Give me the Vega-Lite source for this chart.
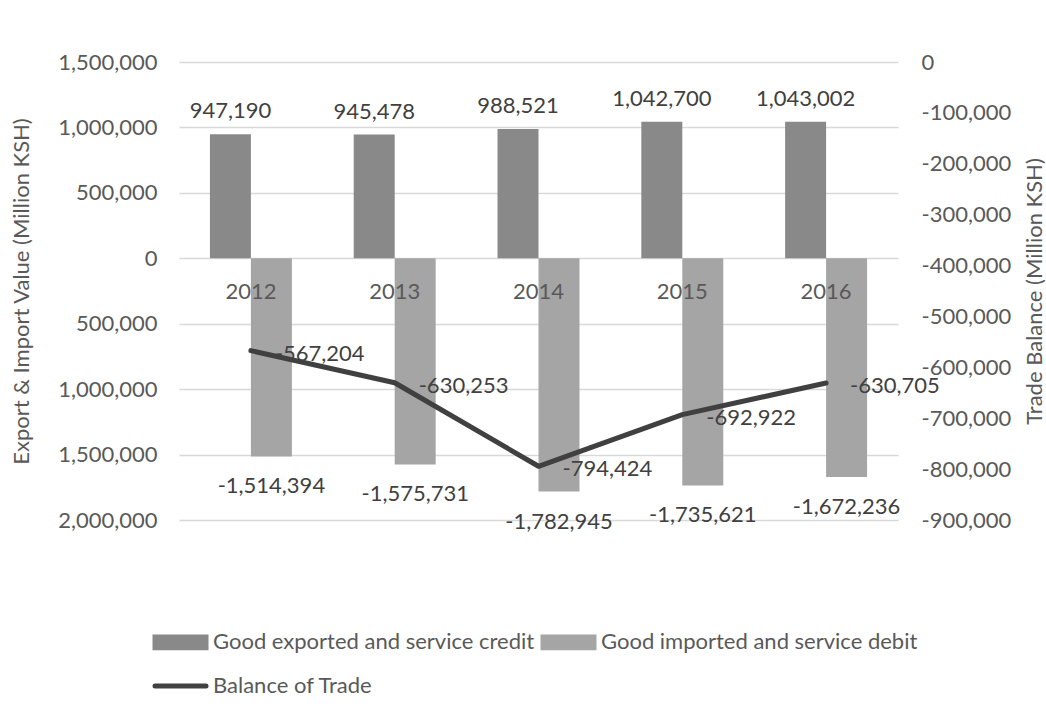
{
  "$schema": "https://vega.github.io/schema/vega-lite/v6.json",
  "width": 719,
  "height": 458,
  "autosize": {"type": "none"},
  "padding": {"left": 179, "top": 62, "right": 148, "bottom": 193},
  "background": "white",
  "config": {
    "view": {"stroke": null},
    "font": "Lato",
    "axis": {
      "labelFont": "Lato", "labelFontSize": 22, "labelColor": "#595959",
      "titleFont": "Lato", "titleFontSize": 22, "titleColor": "#595959", "titleFontWeight": "normal",
      "domain": false, "ticks": false, "tickSize": 0
    }
  },
  "datasets": {
    "trade": [
      {"year": "2012", "series": "Good exported and service credit", "value": 947190},
      {"year": "2013", "series": "Good exported and service credit", "value": 945478},
      {"year": "2014", "series": "Good exported and service credit", "value": 988521},
      {"year": "2015", "series": "Good exported and service credit", "value": 1042700},
      {"year": "2016", "series": "Good exported and service credit", "value": 1043002},
      {"year": "2012", "series": "Good imported and service debit", "value": -1514394},
      {"year": "2013", "series": "Good imported and service debit", "value": -1575731},
      {"year": "2014", "series": "Good imported and service debit", "value": -1782945},
      {"year": "2015", "series": "Good imported and service debit", "value": -1735621},
      {"year": "2016", "series": "Good imported and service debit", "value": -1672236}
    ],
    "balance": [
      {"year": "2012", "series": "Balance of Trade", "value": -567204},
      {"year": "2013", "series": "Balance of Trade", "value": -630253},
      {"year": "2014", "series": "Balance of Trade", "value": -794424},
      {"year": "2015", "series": "Balance of Trade", "value": -692922},
      {"year": "2016", "series": "Balance of Trade", "value": -630705}
    ]
  },
  "encoding": {
    "x": {"field": "year", "type": "ordinal", "axis": null,
          "scale": {"paddingInner": 0.43, "paddingOuter": 0.215}}
  },
  "layer": [
    {
      "data": {"name": "trade"},
      "encoding": {
        "y": {
          "field": "value", "type": "quantitative",
          "scale": {"domain": [-2000000, 1500000], "nice": false, "zero": false},
          "axis": {
            "orient": "left",
            "values": [-2000000, -1500000, -1000000, -500000, 0, 500000, 1000000, 1500000],
            "grid": true, "gridColor": "#d9d9d9", "gridWidth": 1.3,
            "labelExpr": "format(abs(datum.value), ',')",
            "labelPadding": 22,
            "title": "Export & Import Value (Million KSH)",
            "titlePadding": 24
          }
        }
      },
      "layer": [
        {
          "mark": {"type": "bar"},
          "encoding": {
            "xOffset": {"field": "series", "type": "nominal",
                        "scale": {"domain": ["Good exported and service credit", "Good imported and service debit"], "paddingInner": 0, "paddingOuter": 0}},
            "color": {
              "field": "series", "type": "nominal",
              "scale": {"domain": ["Good exported and service credit", "Good imported and service debit", "Balance of Trade"],
                        "range": ["#898989", "#a5a5a5", "#404040"]},
              "legend": {
                "orient": "none", "legendX": -26.5, "legendY": 552,
                "direction": "horizontal", "columns": 2, "title": null,
                "labelFont": "Lato", "labelFontSize": 22, "labelColor": "#595959", "labelLimit": 600,
                "symbolSize": 2601, "symbolStrokeWidth": 5, "labelOffset": 4.5, "columnPadding": -2, "rowPadding": -10,
                "encode": {
                  "symbols": {
                    "update": {
                      "shape": {"signal": "datum.value === 'Balance of Trade' ? 'stroke' : 'M-1,-0.21H1V0.21H-1Z'"},
                      "strokeCap": {"value": "round"},
                      "fill": {"scale": "color", "field": "value"},
                      "stroke": {"signal": "datum.value === 'Balance of Trade' ? '#404040' : 'transparent'"},
                      "fillOpacity": {"value": 1},
                      "strokeOpacity": {"value": 1},
                      "opacity": {"value": 1}
                    }
                  }
                }
              }
            }
          }
        },
        {
          "transform": [{"filter": "datum.series === 'Good exported and service credit'"}],
          "mark": {"type": "text", "dy": -23, "baseline": "middle", "fontSize": 22, "font": "Lato", "color": "#404040",
                   "text": {"expr": "replace(format(datum.value, ','), '\u2212', '-')"}},
          "encoding": {"xOffset": {"field": "series", "type": "nominal"}}
        },
        {
          "transform": [{"filter": "datum.series === 'Good imported and service debit'"}],
          "mark": {"type": "text", "dy": 30, "baseline": "middle", "fontSize": 22, "font": "Lato", "color": "#404040",
                   "text": {"expr": "replace(format(datum.value, ','), '\u2212', '-')"}},
          "encoding": {"xOffset": {"field": "series", "type": "nominal"}}
        },
        {
          "transform": [{"filter": "datum.series === 'Good exported and service credit'"}],
          "mark": {"type": "text", "dy": 34, "baseline": "middle", "fontSize": 22, "font": "Lato", "color": "#595959"},
          "encoding": {"y": {"datum": 0}, "text": {"field": "year", "type": "ordinal"}}
        }
      ]
    },
    {
      "data": {"name": "balance"},
      "encoding": {
        "y": {
          "field": "value", "type": "quantitative",
          "scale": {"domain": [-900000, 0], "nice": false, "zero": false},
          "axis": {
            "orient": "right",
            "values": [-900000, -800000, -700000, -600000, -500000, -400000, -300000, -200000, -100000, 0],
            "grid": false,
            "labelExpr": "replace(datum.label, '\u2212', '-')",
            "labelPadding": 23,
            "title": "Trade Balance (Million KSH)",
            "titleAngle": -90,
            "titleBaseline": "top",
            "titlePadding": 14
          }
        }
      },
      "layer": [
        {
          "mark": {"type": "line", "strokeWidth": 5, "strokeCap": "round", "strokeJoin": "round"},
          "encoding": {"color": {"field": "series", "type": "nominal"}}
        },
        {
          "mark": {"type": "text", "align": "left", "dx": 24, "dy": 3, "baseline": "middle", "fontSize": 22, "font": "Lato", "color": "#404040",
                   "text": {"expr": "replace(format(datum.value, ','), '\u2212', '-')"}}
        }
      ]
    }
  ],
  "resolve": {"scale": {"y": "independent"}}
}
